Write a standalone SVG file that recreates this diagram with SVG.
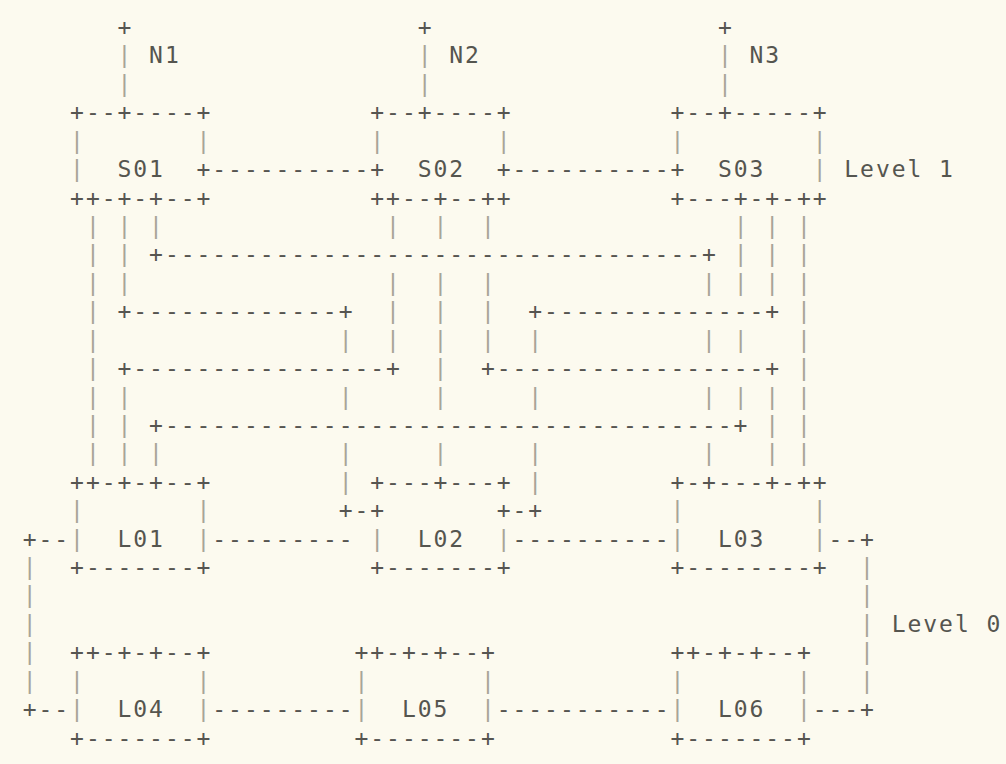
<svg xmlns="http://www.w3.org/2000/svg" width="1006" height="764" viewBox="0 0 1006 764">
<style>
text{font-family:"DejaVu Sans Mono","Liberation Mono",monospace;font-size:23px;letter-spacing:1.95px}
.h{fill:#565551}
.v{fill:#a8a497}
.t{fill:#55554f}
</style>
<rect width="1006" height="764" fill="#fcfaef"/>
<g id="connectors">
<text class="h" x="117.5" y="35">+</text>
<text class="v" x="117.5" y="63.4">|</text>
<text class="v" x="117.5" y="91.8">|</text>
<text class="h" x="417.7" y="35">+</text>
<text class="v" x="417.7" y="63.4">|</text>
<text class="v" x="417.7" y="91.8">|</text>
<text class="h" x="717.9" y="35">+</text>
<text class="v" x="717.9" y="63.4">|</text>
<text class="v" x="717.9" y="91.8">|</text>
<text class="h" x="212.3" y="177.1">----------</text>
<text class="h" x="512.5" y="177.1">----------</text>
<text class="h" y="233.9"><tspan class="v" x="85.9">|</tspan><tspan class="v" x="117.5">|</tspan><tspan class="v" x="149.1">|</tspan><tspan class="v" x="386.1">|</tspan><tspan class="v" x="433.5">|</tspan><tspan class="v" x="480.9">|</tspan><tspan class="v" x="733.7">|</tspan><tspan class="v" x="765.3">|</tspan><tspan class="v" x="796.9">|</tspan></text>
<text class="h" y="262.4"><tspan class="v" x="85.9">|</tspan><tspan class="v" x="117.5">|</tspan><tspan x="149.1">+----------------------------------+</tspan><tspan class="v" x="733.7">|</tspan><tspan class="v" x="765.3">|</tspan><tspan class="v" x="796.9">|</tspan></text>
<text class="h" y="290.8"><tspan class="v" x="85.9">|</tspan><tspan class="v" x="117.5">|</tspan><tspan class="v" x="386.1">|</tspan><tspan class="v" x="433.5">|</tspan><tspan class="v" x="480.9">|</tspan><tspan class="v" x="702.1">|</tspan><tspan class="v" x="733.7">|</tspan><tspan class="v" x="765.3">|</tspan><tspan class="v" x="796.9">|</tspan></text>
<text class="h" y="319.2"><tspan class="v" x="85.9">|</tspan><tspan x="117.5">+-------------+</tspan><tspan class="v" x="386.1">|</tspan><tspan class="v" x="433.5">|</tspan><tspan class="v" x="480.9">|</tspan><tspan x="528.3">+--------------+</tspan><tspan class="v" x="796.9">|</tspan></text>
<text class="h" y="347.6"><tspan class="v" x="85.9">|</tspan><tspan class="v" x="338.7">|</tspan><tspan class="v" x="386.1">|</tspan><tspan class="v" x="433.5">|</tspan><tspan class="v" x="480.9">|</tspan><tspan class="v" x="528.3">|</tspan><tspan class="v" x="702.1">|</tspan><tspan class="v" x="733.7">|</tspan><tspan class="v" x="796.9">|</tspan></text>
<text class="h" y="376"><tspan class="v" x="85.9">|</tspan><tspan x="117.5">+----------------+</tspan><tspan class="v" x="433.5">|</tspan><tspan x="480.9">+-----------------+</tspan><tspan class="v" x="796.9">|</tspan></text>
<text class="h" y="404.5"><tspan class="v" x="85.9">|</tspan><tspan class="v" x="117.5">|</tspan><tspan class="v" x="338.7">|</tspan><tspan class="v" x="433.5">|</tspan><tspan class="v" x="528.3">|</tspan><tspan class="v" x="702.1">|</tspan><tspan class="v" x="733.7">|</tspan><tspan class="v" x="765.3">|</tspan><tspan class="v" x="796.9">|</tspan></text>
<text class="h" y="432.9"><tspan class="v" x="85.9">|</tspan><tspan class="v" x="117.5">|</tspan><tspan x="149.1">+------------------------------------+</tspan><tspan class="v" x="765.3">|</tspan><tspan class="v" x="796.9">|</tspan></text>
<text class="h" y="461.3"><tspan class="v" x="85.9">|</tspan><tspan class="v" x="117.5">|</tspan><tspan class="v" x="149.1">|</tspan><tspan class="v" x="338.7">|</tspan><tspan class="v" x="433.5">|</tspan><tspan class="v" x="528.3">|</tspan><tspan class="v" x="702.1">|</tspan><tspan class="v" x="765.3">|</tspan><tspan class="v" x="796.9">|</tspan></text>
<text class="v" x="338.7" y="489.7">|</text>
<text class="v" x="528.3" y="489.7">|</text>
<text class="h" x="338.7" y="518.1">+-</text>
<text class="h" x="512.5" y="518.1">-+</text>
<text class="h" x="212.3" y="546.6">---------</text>
<text class="h" x="512.5" y="546.6">----------</text>
<text class="h" x="828.5" y="546.6">--+</text>
<text class="h" x="22.7" y="546.6">+--</text>
<text class="v" x="22.7" y="575">|</text>
<text class="v" x="22.7" y="603.4">|</text>
<text class="v" x="22.7" y="631.8">|</text>
<text class="v" x="22.7" y="660.2">|</text>
<text class="v" x="22.7" y="688.7">|</text>
<text class="h" x="22.7" y="717.1">+--</text>
<text class="v" x="860.1" y="575">|</text>
<text class="v" x="860.1" y="603.4">|</text>
<text class="v" x="860.1" y="631.8">|</text>
<text class="v" x="860.1" y="660.2">|</text>
<text class="v" x="860.1" y="688.7">|</text>
<text class="h" x="812.7" y="717.1">---+</text>
<text class="h" x="212.3" y="717.1">---------</text>
<text class="h" x="496.7" y="717.1">-----------</text>
</g>
<g id="N1"><text class="t" x="149.1" y="63.4">N1</text></g>
<g id="N2"><text class="t" x="449.3" y="63.4">N2</text></g>
<g id="N3"><text class="t" x="749.5" y="63.4">N3</text></g>
<g id="S01">
<text class="h" x="70.1" y="120.3">+--+----+</text>
<text class="v" x="70.1" y="148.7">|</text>
<text class="v" x="196.5" y="148.7">|</text>
<text class="v" x="70.1" y="177.1">|</text>
<text class="t" x="117.5" y="177.1">S01</text>
<text class="h" x="196.5" y="177.1">+</text>
<text class="h" x="70.1" y="205.5">++-+-+--+</text>
</g>
<g id="S02">
<text class="h" x="370.3" y="120.3">+--+----+</text>
<text class="v" x="370.3" y="148.7">|</text>
<text class="v" x="496.7" y="148.7">|</text>
<text class="h" x="370.3" y="177.1">+</text>
<text class="t" x="417.7" y="177.1">S02</text>
<text class="h" x="496.7" y="177.1">+</text>
<text class="h" x="370.3" y="205.5">++--+--++</text>
</g>
<g id="S03">
<text class="h" x="670.5" y="120.3">+--+-----+</text>
<text class="v" x="670.5" y="148.7">|</text>
<text class="v" x="812.7" y="148.7">|</text>
<text class="h" x="670.5" y="177.1">+</text>
<text class="t" x="717.9" y="177.1">S03</text>
<text class="v" x="812.7" y="177.1">|</text>
<text class="h" x="670.5" y="205.5">+---+-+-++</text>
</g>
<g id="level1"><text class="t" x="844.3" y="177.1">Level 1</text></g>
<g id="L01">
<text class="h" x="70.1" y="489.7">++-+-+--+</text>
<text class="v" x="70.1" y="518.1">|</text>
<text class="v" x="196.5" y="518.1">|</text>
<text class="v" x="70.1" y="546.6">|</text>
<text class="t" x="117.5" y="546.6">L01</text>
<text class="v" x="196.5" y="546.6">|</text>
<text class="h" x="70.1" y="575">+-------+</text>
</g>
<g id="L02">
<text class="h" x="370.3" y="489.7">+---+---+</text>
<text class="h" x="370.3" y="518.1">+</text>
<text class="h" x="496.7" y="518.1">+</text>
<text class="v" x="370.3" y="546.6">|</text>
<text class="t" x="417.7" y="546.6">L02</text>
<text class="v" x="496.7" y="546.6">|</text>
<text class="h" x="370.3" y="575">+-------+</text>
</g>
<g id="L03">
<text class="h" x="670.5" y="489.7">+-+---+-++</text>
<text class="v" x="670.5" y="518.1">|</text>
<text class="v" x="812.7" y="518.1">|</text>
<text class="v" x="670.5" y="546.6">|</text>
<text class="t" x="717.9" y="546.6">L03</text>
<text class="v" x="812.7" y="546.6">|</text>
<text class="h" x="670.5" y="575">+--------+</text>
</g>
<g id="L04">
<text class="h" x="70.1" y="660.2">++-+-+--+</text>
<text class="v" x="70.1" y="688.7">|</text>
<text class="v" x="196.5" y="688.7">|</text>
<text class="v" x="70.1" y="717.1">|</text>
<text class="t" x="117.5" y="717.1">L04</text>
<text class="v" x="196.5" y="717.1">|</text>
<text class="h" x="70.1" y="745.5">+-------+</text>
</g>
<g id="L05">
<text class="h" x="354.5" y="660.2">++-+-+--+</text>
<text class="v" x="354.5" y="688.7">|</text>
<text class="v" x="480.9" y="688.7">|</text>
<text class="v" x="354.5" y="717.1">|</text>
<text class="t" x="401.9" y="717.1">L05</text>
<text class="v" x="480.9" y="717.1">|</text>
<text class="h" x="354.5" y="745.5">+-------+</text>
</g>
<g id="L06">
<text class="h" x="670.5" y="660.2">++-+-+--+</text>
<text class="v" x="670.5" y="688.7">|</text>
<text class="v" x="796.9" y="688.7">|</text>
<text class="v" x="670.5" y="717.1">|</text>
<text class="t" x="717.9" y="717.1">L06</text>
<text class="v" x="796.9" y="717.1">|</text>
<text class="h" x="670.5" y="745.5">+-------+</text>
</g>
<g id="level0"><text class="t" x="891.7" y="631.8">Level 0</text></g>
</svg>
